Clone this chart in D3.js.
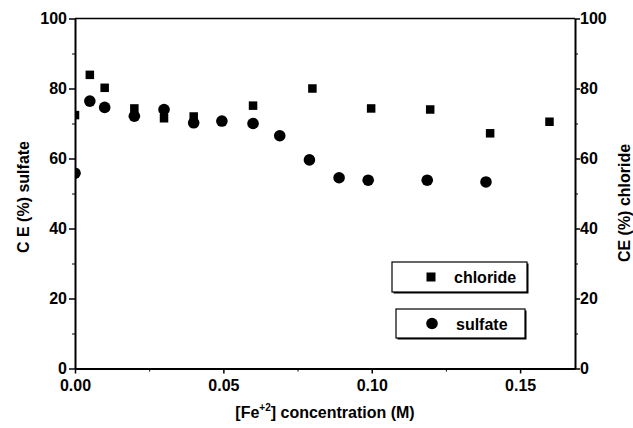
<!DOCTYPE html>
<html>
<head>
<meta charset="utf-8">
<script src="https://cdn.jsdelivr.net/npm/d3@7"></script>
<style>
  html, body { margin: 0; padding: 0; background: #fff; }
  svg { display: block; font-family: "Liberation Sans", Arial, sans-serif; font-weight: bold; }
</style>
</head>
<body>
<div id="chart"></div>
<script>
// data
const chlorideConc = [0, 0.005, 0.01, 0.02, 0.03, 0.04, 0.06, 0.08, 0.0998, 0.1197, 0.1399, 0.1599];
const chlorideCE   = [72.4, 83.9, 80.2, 74.3, 71.5, 72.0, 75.1, 80.0, 74.3, 74.0, 67.2, 70.5];
const sulfateConc  = [0, 0.005, 0.01, 0.02, 0.03, 0.04, 0.0495, 0.06, 0.069, 0.079, 0.089, 0.0988, 0.1187, 0.1385];
const sulfateCE    = [55.8, 76.4, 74.6, 72.1, 74.0, 70.2, 70.7, 70.0, 66.5, 59.6, 54.5, 53.8, 53.8, 53.3];
const xTicks = [0, 0.05, 0.10, 0.15];
const yTicks = [0, 20, 40, 60, 80, 100];

const width = 633, height = 428;
const margin = { top: 18.5, right: 58, bottom: 59.5, left: 75 };
const innerW = width - margin.left - margin.right;
const innerH = height - margin.top - margin.bottom;

const svg = d3.select("#chart").append("svg")
    .attr("width", width)
    .attr("height", height)
    .attr("viewBox", `0 0 ${width} ${height}`);

const g = svg.append("g").attr("transform", `translate(${margin.left},${margin.top})`);

const x = d3.scaleLinear().domain([0, 0.1685]).range([0, innerW]);
const yL = d3.scaleLinear().domain([0, 100]).range([innerH, 0]);
const yR = d3.scaleLinear().domain([0, 100]).range([innerH, 0]);

// clip so points at x=0 are cut by the axis
svg.append("defs").append("clipPath").attr("id", "plot")
    .append("rect").attr("width", innerW).attr("height", innerH);

// frame top line
g.append("line").attr("x1", 0).attr("x2", innerW).attr("y1", 0).attr("y2", 0)
    .attr("stroke", "#000").attr("stroke-width", 1.5);

// axes
const styleAxis = sel => {
    sel.select(".domain").attr("stroke-width", 2);
    sel.selectAll(".tick line").attr("stroke-width", 1.5);
    sel.selectAll(".tick text").attr("font-size", 16).attr("font-weight", "bold").attr("fill", "#000");
};

g.append("g").attr("transform", `translate(0,${innerH})`)
    .call(d3.axisBottom(x).tickValues(xTicks).tickFormat(d3.format(".2f")).tickSize(5).tickSizeOuter(0).tickPadding(6))
    .call(styleAxis);
g.append("g").attr("transform", `translate(0,${innerH})`)
    .call(d3.axisBottom(x).tickValues([0.025, 0.075, 0.125]).tickFormat("").tickSize(3).tickSizeOuter(0))
    .call(s => s.select(".domain").remove());

g.append("g")
    .call(d3.axisLeft(yL).tickValues(yTicks).tickSize(6).tickSizeOuter(0).tickPadding(2))
    .call(styleAxis);
g.append("g")
    .call(d3.axisLeft(yL).tickValues([10, 30, 50, 70, 90]).tickFormat("").tickSize(3).tickSizeOuter(0))
    .call(s => s.select(".domain").remove());

g.append("g").attr("transform", `translate(${innerW},0)`)
    .call(d3.axisRight(yR).tickValues(yTicks).tickSize(5).tickSizeOuter(0).tickPadding(0))
    .call(styleAxis);
g.append("g").attr("transform", `translate(${innerW},0)`)
    .call(d3.axisRight(yR).tickValues([10, 30, 50, 70, 90]).tickFormat("").tickSize(3).tickSizeOuter(0))
    .call(s => s.select(".domain").remove());

// axis titles
svg.append("text")
    .attr("transform", `translate(29,197) rotate(-90)`)
    .attr("text-anchor", "middle").attr("font-size", 16)
    .text("C E (%) sulfate");

svg.append("text")
    .attr("transform", `translate(630,203) rotate(-90)`)
    .attr("text-anchor", "middle").attr("font-size", 16)
    .text("CE (%) chloride");

const xt = svg.append("text")
    .attr("x", margin.left + innerW / 2)
    .attr("y", 418)
    .attr("text-anchor", "middle").attr("font-size", 16);
xt.append("tspan").text("[Fe");
xt.append("tspan").attr("font-size", 10).attr("dy", -7).text("+2");
xt.append("tspan").attr("dy", 7).text("] concentration (M)");

// points
const pts = g.append("g").attr("clip-path", "url(#plot)");
const sq = 8.5;
pts.selectAll("rect.chl").data(chlorideConc.map((c, i) => [c, chlorideCE[i]]))
    .join("rect").attr("class", "chl")
    .attr("x", d => x(d[0]) - sq / 2).attr("y", d => yR(d[1]) - sq / 2)
    .attr("width", sq).attr("height", sq).attr("fill", "#000");
pts.selectAll("circle.sul").data(sulfateConc.map((c, i) => [c, sulfateCE[i]]))
    .join("circle").attr("class", "sul")
    .attr("cx", d => x(d[0])).attr("cy", d => yL(d[1]))
    .attr("r", 5.8).attr("fill", "#000");

// legend
const legend = [
    { name: "chloride", box: [392, 262, 135, 30], shape: "square" },
    { name: "sulfate", box: [396, 309, 129, 29], shape: "circle" }
];
legend.forEach(l => {
    const [bx, by, bw, bh] = l.box;
    svg.append("rect").attr("x", bx + 1.5).attr("y", by + 1.5).attr("width", bw).attr("height", bh)
        .attr("fill", "#000");
    svg.append("rect").attr("x", bx).attr("y", by).attr("width", bw).attr("height", bh)
        .attr("fill", "#fff").attr("stroke", "#000").attr("stroke-width", 1.2);
    const cy = by + bh / 2;
    if (l.shape === "square") {
        svg.append("rect").attr("x", 431 - 4.5).attr("y", cy - 4.5).attr("width", 9).attr("height", 9).attr("fill", "#000");
    } else {
        svg.append("circle").attr("cx", 432).attr("cy", cy).attr("r", 5.8).attr("fill", "#000");
    }
    svg.append("text").attr("x", l.shape === "square" ? 454 : 456).attr("y", cy + 6)
        .attr("font-size", 16).text(l.name);
});
</script>
</body>
</html>
